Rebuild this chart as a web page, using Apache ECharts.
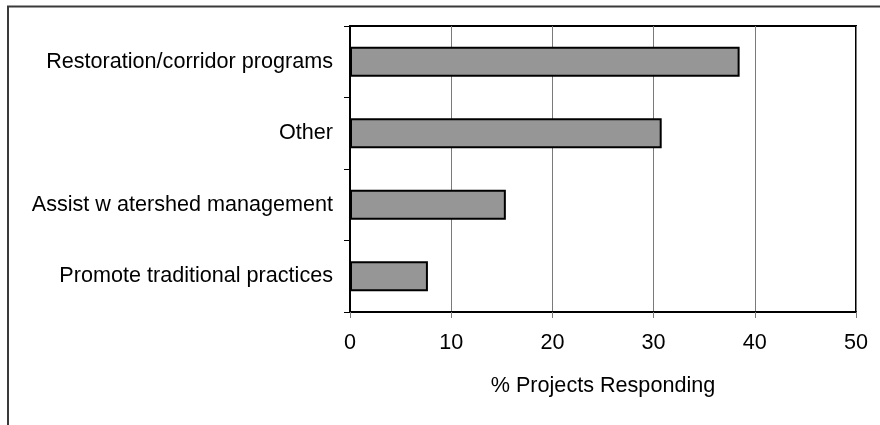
<!DOCTYPE html>
<html>
<head>
<meta charset="utf-8">
<script src="https://cdn.jsdelivr.net/npm/echarts@6/dist/echarts.min.js"></script>
<style>
  html, body { margin: 0; padding: 0; background: #fff; }
  #chart { width: 880px; height: 425px; }
</style>
</head>
<body>
<div id="chart"></div>
<script>
// Survey responses: share of projects naming each activity
const categories = [
  'Restoration/corridor programs',
  'Other',
  'Assist w atershed management',
  'Promote traditional practices'
];
const percentResponding = [38.5, 30.8, 15.4, 7.7];
const axisTitle = '% Projects Responding';

const FONT = '"Liberation Sans", Arial, sans-serif';
const FONT_SIZE = 21.6;

const chart = echarts.init(document.getElementById('chart'), null, { renderer: 'canvas' });

chart.setOption({
  backgroundColor: '#ffffff',
  animation: false,
  textStyle: { fontFamily: FONT },
  graphic: [
    {
      // outer frame (left and top edges)
      type: 'polyline',
      silent: true,
      shape: { points: [[8, 425], [8, 6.5], [880, 6.5]] },
      style: { stroke: '#3a3a3a', lineWidth: 2, fill: null }
    }
  ],
  grid: {
    left: 350,
    right: 24,
    top: 26,
    bottom: 113,
    show: true,
    borderColor: '#000',
    borderWidth: 2,
    backgroundColor: 'transparent'
  },
  xAxis: {
    type: 'value',
    min: 0,
    max: 50,
    interval: 10,
    name: axisTitle,
    nameLocation: 'middle',
    nameGap: 63,
    nameTextStyle: { color: '#000', fontSize: FONT_SIZE, fontFamily: FONT },
    axisLine: { show: true, lineStyle: { color: '#000', width: 2 } },
    axisTick: { show: true, length: 6, lineStyle: { color: '#7a7a7a', width: 1 } },
    axisLabel: { color: '#000', fontSize: FONT_SIZE, fontFamily: FONT, margin: 20 },
    splitLine: { show: true, lineStyle: { color: '#7a7a7a', width: 1 } }
  },
  yAxis: {
    type: 'category',
    inverse: true,
    data: categories,
    axisLine: { show: true, lineStyle: { color: '#000', width: 2 } },
    axisTick: { show: true, length: 6, lineStyle: { color: '#000', width: 1 } },
    axisLabel: { color: '#000', fontSize: FONT_SIZE, fontFamily: FONT, margin: 17 },
    splitLine: { show: false }
  },
  series: [
    {
      type: 'bar',
      data: percentResponding,
      barWidth: 30,
      itemStyle: { color: '#969696', borderColor: '#000', borderWidth: 2 }
    }
  ]
});
</script>
</body>
</html>
